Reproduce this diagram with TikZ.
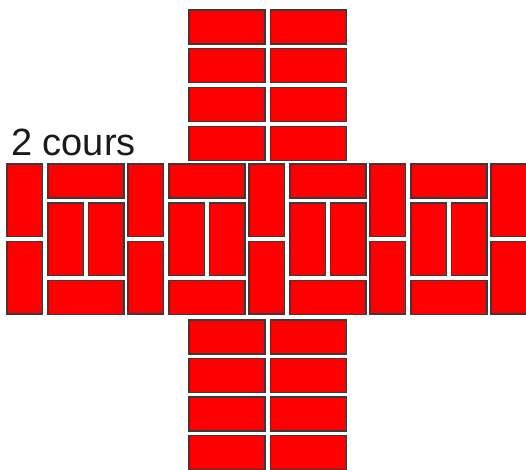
\documentclass[tikz,border=0pt]{standalone}
\usepackage{fontspec}
\setmainfont{Liberation Sans}
\usepackage{xcolor}
\definecolor{cBrick}{HTML}{FF0000}
\definecolor{cJoint}{HTML}{3A3A3A}
\definecolor{cText}{HTML}{1A1A1A}
\usepackage{tikz}
\usetikzlibrary{positioning}
\tikzset{
  brick-face/.style={fill=cBrick,draw=cJoint,line width=1.1pt},
  % 坐标单位 = 参考图像素，y 轴向下
  node-label/.style={font=\fontsize{38}{41}\selectfont,text=cText,
    inner sep=0pt,anchor=base west},
}
\newcommand{\brickH}[2]{\draw[brick-face] (#1,#2) rectangle ++(76,34);}
\newcommand{\brickV}[2]{\draw[brick-face] (#1,#2) rectangle ++(35.5,72.5);}

\begin{document}
\begin{tikzpicture}[x=1pt,y=-1pt]
  \useasboundingbox (0,0) rectangle (526,469);
  % 上下两段：顺砌
  \foreach \row in {0,...,3} {
    \brickH{189}{10+38.7*\row}
    \brickH{270.5}{10+38.7*\row}
    \brickH{189}{320+38.5*\row}
    \brickH{270.5}{320+38.5*\row}
  }
  % 中段：立砖 + 方块
  \foreach \k in {0,...,4} {
    \brickV{7+121*\k}{164}
    \brickV{7+121*\k}{241.5}
  }
  \foreach \k in {0,...,3} {
    \brickH{48+121*\k}{164}
    \brickV{48+121*\k}{203}
    \brickV{88.5+121*\k}{203}
    \brickH{48+121*\k}{280.5}
  }
  \node[node-label] (lbl) at (11,155) {2 cours};
\end{tikzpicture}
\end{document}
